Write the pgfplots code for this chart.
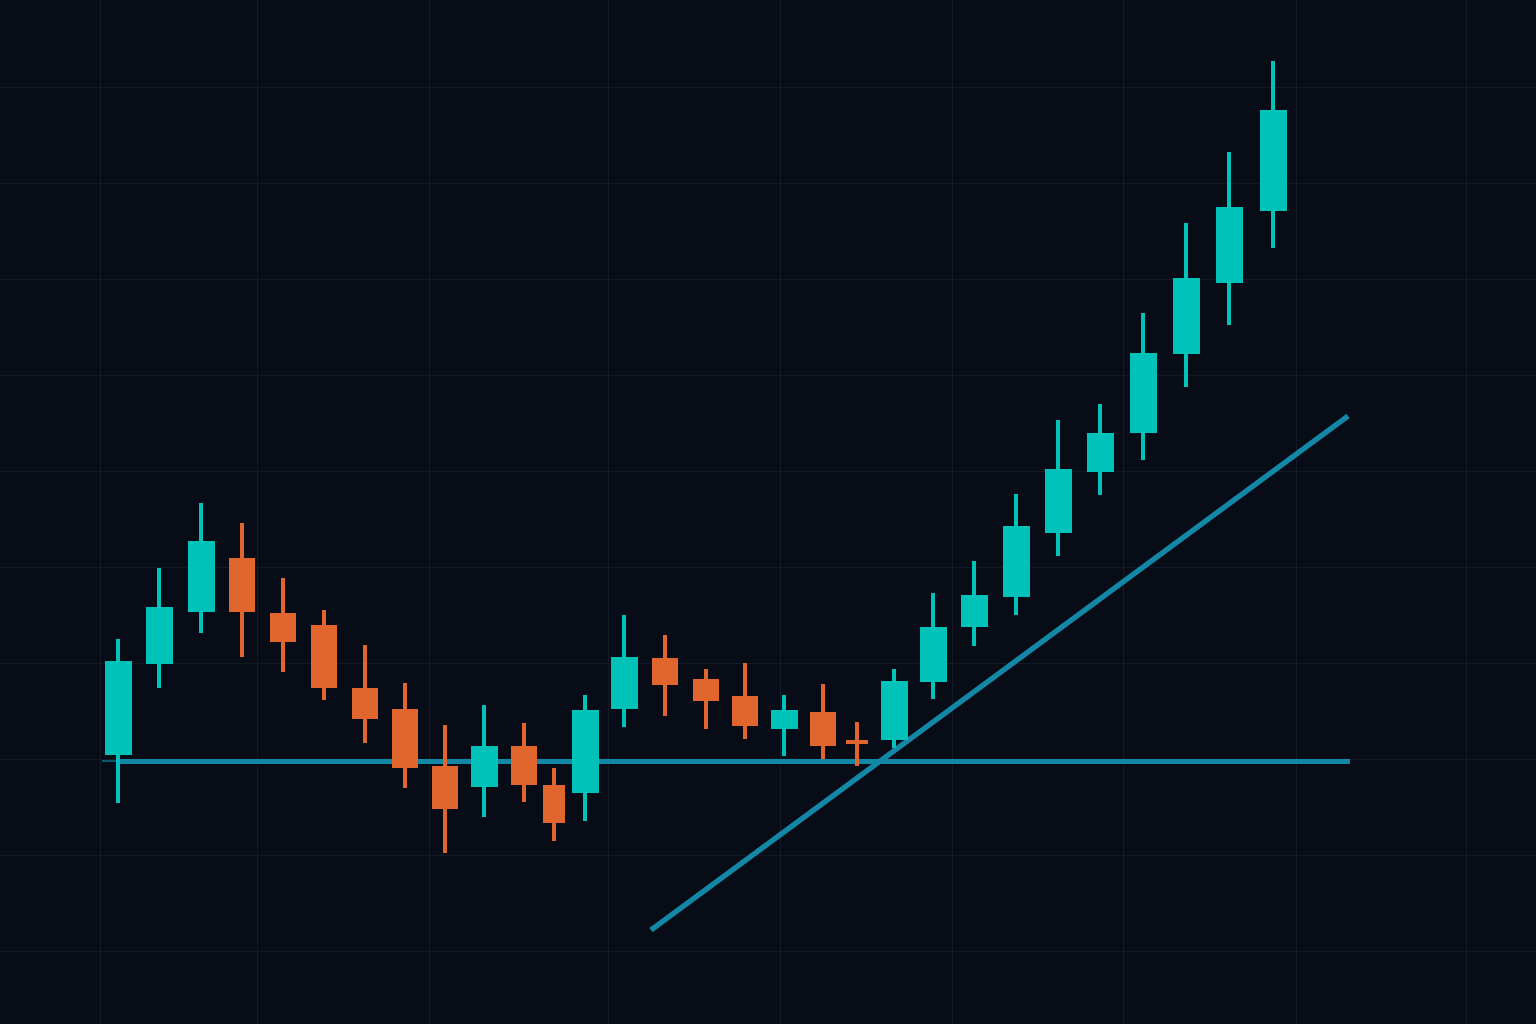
\documentclass[border=0pt]{standalone}
\usepackage{pgfplots}
\pgfplotsset{compat=1.18}
\usepackage{pgfplotstable}
\definecolor{bg}{HTML}{080C17}
\definecolor{gridc}{HTML}{121A28}
\definecolor{gcol}{HTML}{00C2B8}
\definecolor{rcol}{HTML}{E0662E}
\definecolor{lcol}{HTML}{1387A6}
% x, wick top, body top, body bottom, wick bottom (pixel coordinates, y downward)
\pgfplotstableread{
x wt bt bb wb
118 639 661 755 803
159 568 607 664 688
201 503 541 612 633
484 705 746 787 817
585 695 710 793 821
624 615 657 709 727
784 695 710 729 756
894 669 681 740 748
933 593 627 682 699
974 561 595 627 646
1016 494 526 597 615
1058 420 469 533 556
1100 404 433 472 495
1143 313 353 433 460
1186 223 278 354 387
1229 152 207 283 325
1273 61 110 211 248
}\green
\pgfplotstableread{
x wt bt bb wb
242 523 558 612 657
283 578 613 642 672
324 610 625 688 700
365 645 688 719 743
405 683 709 768 788
445 725 766 809 853
524 723 746 785 802
665 635 658 685 716
706 669 679 701 729
745 663 696 726 739
823 684 712 746 759
}\red
\pgfplotstableread{
x wt bt bb wb
554 768 785 823 841
857 722 740 744 766
}\rednarrow
\begin{document}
\begin{tikzpicture}
\begin{axis}[
  width=768bp, height=512bp, scale only axis,
  xmin=0, xmax=1536, ymin=0, ymax=1024, y dir=reverse,
  axis background/.style={fill=bg},
  axis line style={draw=none},
  major tick length=0pt,
  xtick={100,257,429,608,780,952,1123,1296,1466},
  ytick={87,183,279,375,471,567,663,759,855,951},
  xticklabels={}, yticklabels={},
  grid=major, grid style={draw=gridc, line width=0.5bp},
  clip=false,
]
% horizontal support line
\addplot[draw=lcol!60!bg, line width=0.8bp, forget plot] coordinates {(102,761) (118,761)};
\addplot[draw=lcol, line width=2.5bp, forget plot] coordinates {(118,761) (1350,761)};
% trend line
\addplot[draw=lcol, line width=2.6bp, forget plot] coordinates {(651,930) (1348,416)};
% wicks
\addplot[draw=none, forget plot, error bars/.cd, y dir=plus, y explicit, error mark=none,
  error bar style={draw=gcol, line width=1.7bp}]
  table[x=x, y=wt, y error plus expr=\thisrow{wb}-\thisrow{wt}, y error minus expr=0] {\green};
\addplot[draw=none, forget plot, error bars/.cd, y dir=plus, y explicit, error mark=none,
  error bar style={draw=rcol, line width=1.7bp}]
  table[x=x, y=wt, y error plus expr=\thisrow{wb}-\thisrow{wt}, y error minus expr=0] {\red};
\addplot[draw=none, forget plot, error bars/.cd, y dir=plus, y explicit, error mark=none,
  error bar style={draw=rcol, line width=1.7bp}]
  table[x=x, y=wt, y error plus expr=\thisrow{wb}-\thisrow{wt}, y error minus expr=0] {\rednarrow};
% bodies
\addplot[draw=none, forget plot, error bars/.cd, y dir=plus, y explicit, error mark=none,
  error bar style={draw=gcol, line width=13.5bp}]
  table[x=x, y=bt, y error plus expr=\thisrow{bb}-\thisrow{bt}, y error minus expr=0] {\green};
\addplot[draw=none, forget plot, error bars/.cd, y dir=plus, y explicit, error mark=none,
  error bar style={draw=rcol, line width=13bp}]
  table[x=x, y=bt, y error plus expr=\thisrow{bb}-\thisrow{bt}, y error minus expr=0] {\red};
\addplot[draw=none, forget plot, error bars/.cd, y dir=plus, y explicit, error mark=none,
  error bar style={draw=rcol, line width=10.8bp}]
  table[x=x, y=bt, y error plus expr=\thisrow{bb}-\thisrow{bt}, y error minus expr=0] {\rednarrow};
\end{axis}
\pgfresetboundingbox
\path[use as bounding box] (current axis.south west) rectangle (current axis.north east);
\end{tikzpicture}
\end{document}
